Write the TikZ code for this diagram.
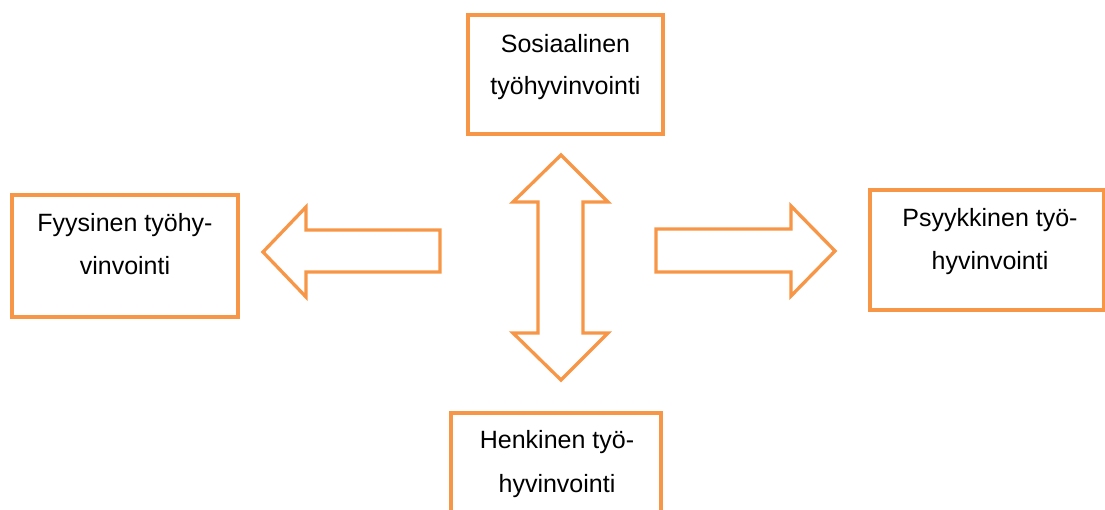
\documentclass[tikz,border=0pt]{standalone}
\usepackage{fontspec}
\setmainfont{Liberation Sans}
\definecolor{boxorange}{RGB}{247,150,70}
\tikzset{
  frame/.style={draw=boxorange, line width=3.3pt, fill=white, line join=miter},
  blockarrow/.style={draw=boxorange, line width=3.3pt, fill=white, line join=miter},
  lbl/.style={font=\fontsize{25}{30}\selectfont, anchor=base, inner sep=0pt, text=black}
}
\begin{document}
\begin{tikzpicture}[x=1pt,y=-1pt]
\useasboundingbox (0,0) rectangle (1105,510);
% boxes
\draw[frame] (468,15) rectangle (663,134);
\draw[frame] (12,195) rectangle (238,317);
\draw[frame] (870,190) rectangle (1104,310);
\draw[frame] (451,413) rectangle (661,520);
% labels
\node[lbl] (sosA) at (565.5,53) {Sosiaalinen};
\node[lbl] (sosB) at (565.5,95) {työhyvinvointi};
\node[lbl] (fyyA) at (125,232) {Fyysinen työhy-};
\node[lbl] (fyyB) at (125,275) {vinvointi};
\node[lbl] (psyA) at (990,227) {Psyykkinen työ-};
\node[lbl] (psyB) at (990,270) {hyvinvointi};
\node[lbl] (henA) at (557,448) {Henkinen työ-};
\node[lbl] (henB) at (557,492) {hyvinvointi};
% left arrow
\draw[blockarrow] (263,252) -- (306,207) -- (306,230) -- (440,230) -- (440,272)
  -- (306,272) -- (306,297) -- cycle;
% right arrow
\draw[blockarrow] (835,251) -- (791,206) -- (791,229) -- (656,229) -- (656,272)
  -- (791,272) -- (791,296) -- cycle;
% vertical double arrow
\draw[blockarrow] (561,155) -- (608,202) -- (583,202) -- (583,333) -- (608,333)
  -- (561,380) -- (513,333) -- (538,333) -- (538,202) -- (513,202) -- cycle;
\end{tikzpicture}
\end{document}
